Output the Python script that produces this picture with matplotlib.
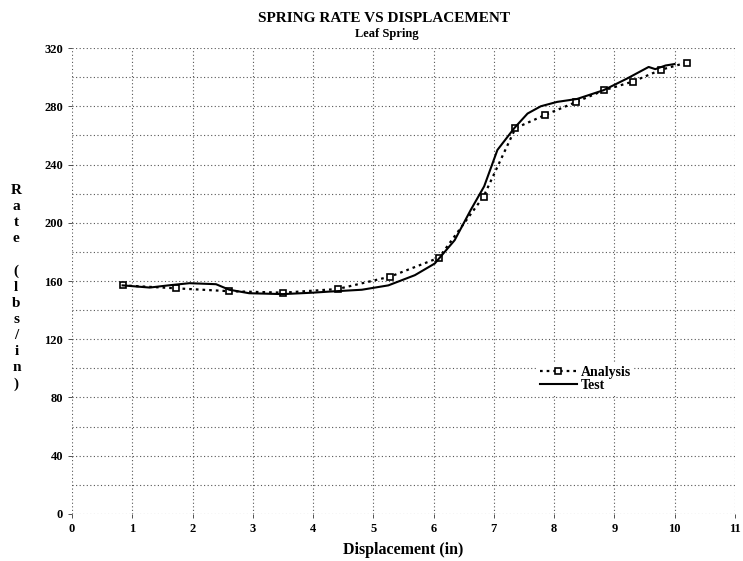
import numpy as np
import matplotlib.pyplot as plt

# Analysis points (square markers)
analysis_x = [0.84, 1.72, 2.61, 3.51, 4.41, 5.28, 6.09, 6.83, 7.36, 7.85, 8.37, 8.83, 9.31, 9.77, 10.2]
analysis_y = [157, 155, 153, 152, 154.5, 163, 176, 218, 265, 274, 283, 291, 297, 305, 310]

# Test curve (solid line)
test_x = [0.84, 1.29, 1.6, 1.95, 2.39, 2.61, 2.94, 3.5, 4.0, 4.26, 4.81, 5.25, 5.69, 6.02,
          6.35, 6.62, 6.84, 7.06, 7.34, 7.56, 7.78, 8.05, 8.38, 8.82, 9.21, 9.57, 9.68,
          9.85, 10.0]
test_y = [157, 155.5, 157, 158.5, 157.8, 154, 151.6, 151, 152, 152.7, 154, 157, 164, 172,
          188, 209, 225, 250, 265, 275, 280, 283, 285, 291, 299, 307, 305.5, 308, 309]

x_ticks = list(range(0, 12))
y_ticks = list(range(0, 321, 40))

plt.rcParams['font.family'] = ['Liberation Serif', 'DejaVu Serif']
plt.rcParams['font.weight'] = 'bold'

fig = plt.figure(figsize=(7.43, 5.61), dpi=100)
ax = fig.add_axes([0.0969, 0.0838, 0.8921, 0.8306])

ax.plot(analysis_x, analysis_y, color='black', linestyle=(0, (1.2, 1.8)), linewidth=1.6,
        marker='s', markersize=5, markerfacecolor='white', markeredgecolor='black',
        markeredgewidth=1.2, label='Analysis', zorder=3)
ax.plot(test_x, test_y, color='black', linewidth=1.5, label='Test', zorder=3)

ax.set_xlim(0, 11)
ax.set_ylim(0, 320)
ax.set_xticks(x_ticks)
ax.set_yticks(y_ticks)
ax.set_yticks(range(20, 320, 40), minor=True)
ax.tick_params(axis='both', which='major', labelsize=9, length=3, width=0.6, colors='#333333')
ax.tick_params(axis='y', which='minor', length=0)
for lab in ax.get_xticklabels() + ax.get_yticklabels():
    lab.set_color('black')
    lab.set_fontweight('bold')

for s in ax.spines.values():
    s.set_visible(False)
ax.grid(True, which='both', color='#555555', linestyle=(0, (1, 2.2)), linewidth=0.8)
ax.set_axisbelow(True)

ax.set_xlabel('Displacement (in)', fontsize=11.5, fontweight='bold', labelpad=5)

ylab = 'Rate (lbs/in)'
fig.text(0.022, 0.4875, '\n'.join(ylab), fontsize=11, fontweight='bold',
         ha='center', va='center', linespacing=1.3)

fig.text(0.517, 0.967, 'SPRING RATE VS DISPLACEMENT', fontsize=11, fontweight='bold',
         ha='center', va='center')
fig.text(0.52, 0.94, 'Leaf Spring', fontsize=9, fontweight='bold', ha='center', va='center')

leg = ax.legend(loc='center', bbox_to_anchor=(0.775, 0.29), fontsize=10, frameon=True,
                facecolor='white', edgecolor='none', framealpha=1, handlelength=2.6,
                labelspacing=0.05, borderpad=0.2, handletextpad=0.3, borderaxespad=0)
leg.get_frame().set_linewidth(0)

fig.savefig('out.png', dpi=100)
